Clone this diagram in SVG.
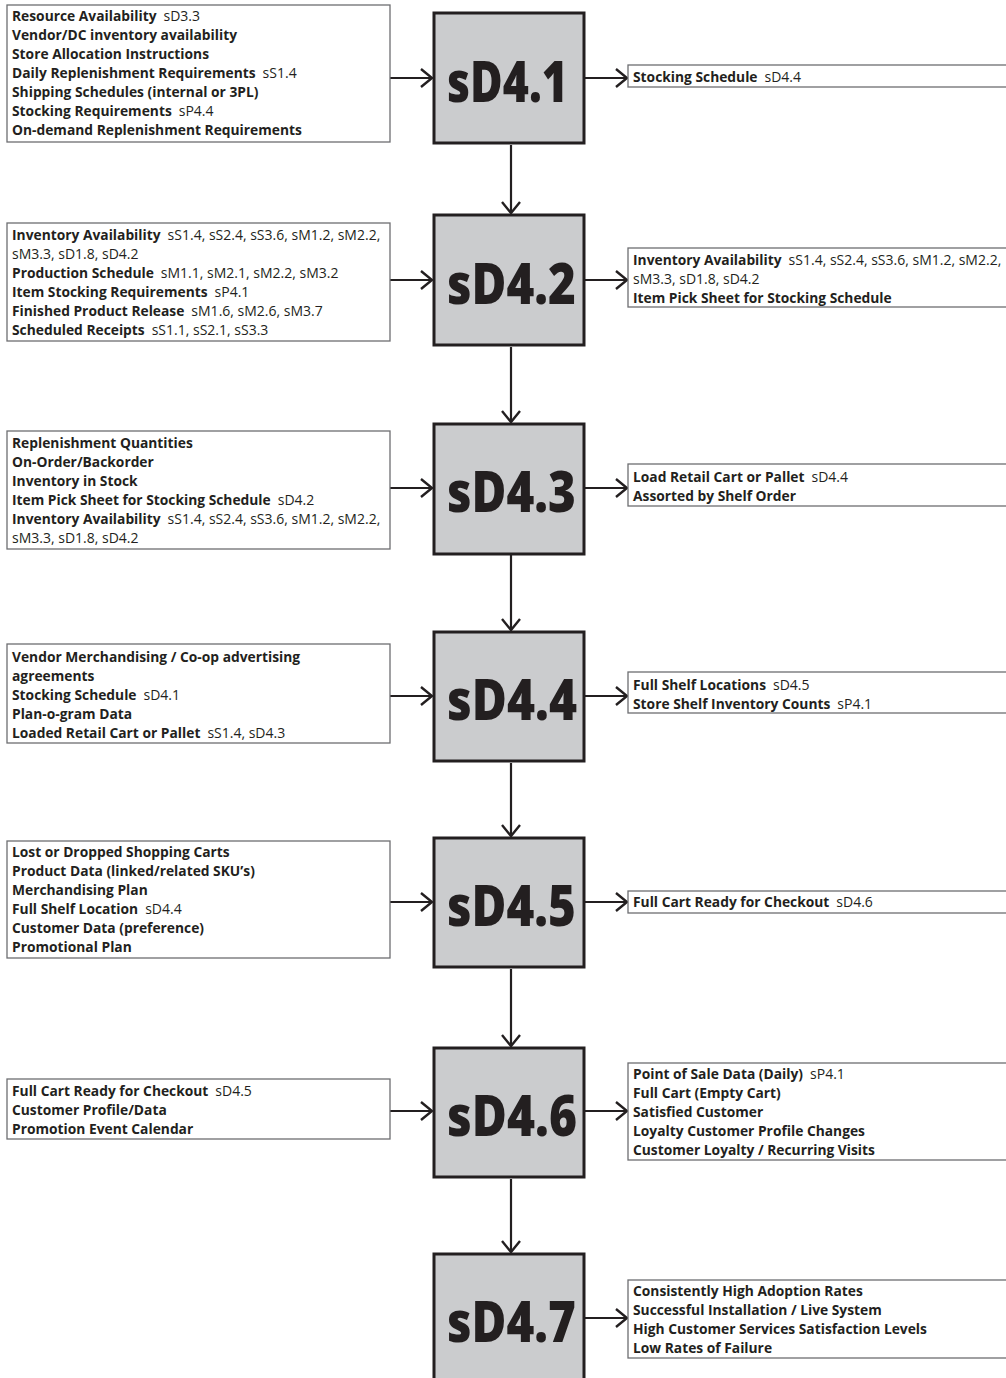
<svg xmlns="http://www.w3.org/2000/svg" width="1006" height="1378" viewBox="0 0 1006 1378">
  <style>
    .bg { fill: #ffffff; }
    .step { fill: #cbccce; stroke: #231f20; stroke-width: 3; }
    .step-label { font-family: "Open Sans", "Liberation Sans", sans-serif; font-weight: 800; font-size: 57px; fill: #231f20; }
    .io { fill: #ffffff; stroke: #6d6e71; stroke-width: 1.3; }
    .t { font-family: "Open Sans", "Liberation Sans", sans-serif; fill: #231f20; }
    .b { font-weight: 700; font-size: 13.8px; }
    .r { font-weight: 400; font-size: 14px; }
    .wire { stroke: #231f20; stroke-width: 2.2; fill: none; marker-end: url(#chev); }
  </style>
  <defs>
    <marker id="chev" markerUnits="userSpaceOnUse" viewBox="-12 -11 14 22" refX="0" refY="0" markerWidth="14" markerHeight="22" orient="auto">
      <path d="M-11,-9 L0,0 L-11,9" fill="none" stroke="#231f20" stroke-width="2.4"/>
    </marker>
  </defs>
  <rect class="bg" x="0" y="0" width="1006" height="1378"/>

  <!-- connectors: inputs into each step, step to step, step to outputs -->
  <g id="connectors">
    <line class="wire" x1="390" y1="78" x2="432" y2="78"/>
    <line class="wire" x1="585" y1="78" x2="627" y2="78"/>
    <line class="wire" x1="511" y1="145" x2="511" y2="213"/>

    <line class="wire" x1="390" y1="280" x2="432" y2="280"/>
    <line class="wire" x1="585" y1="280" x2="627" y2="280"/>
    <line class="wire" x1="511" y1="347" x2="511" y2="422"/>

    <line class="wire" x1="390" y1="488" x2="432" y2="488"/>
    <line class="wire" x1="585" y1="488" x2="627" y2="488"/>
    <line class="wire" x1="511" y1="555" x2="511" y2="630"/>

    <line class="wire" x1="390" y1="696" x2="432" y2="696"/>
    <line class="wire" x1="585" y1="696" x2="627" y2="696"/>
    <line class="wire" x1="511" y1="763" x2="511" y2="836"/>

    <line class="wire" x1="390" y1="902" x2="432" y2="902"/>
    <line class="wire" x1="585" y1="902" x2="627" y2="902"/>
    <line class="wire" x1="511" y1="969" x2="511" y2="1046"/>

    <line class="wire" x1="390" y1="1111" x2="432" y2="1111"/>
    <line class="wire" x1="585" y1="1111" x2="627" y2="1111"/>
    <line class="wire" x1="511" y1="1179" x2="511" y2="1252"/>

    <line class="wire" x1="585" y1="1318" x2="627" y2="1318"/>
  </g>

  <!-- sD4.1 -->
  <g id="in-sD4.1">
    <rect class="io" x="7" y="5" width="383" height="137"/>
    <text class="t" x="12" y="21"><tspan class="b">Resource Availability</tspan><tspan class="r" dx="7">sD3.3</tspan></text>
    <text class="t b" x="12" y="40">Vendor/DC inventory availability</text>
    <text class="t b" x="12" y="59">Store Allocation Instructions</text>
    <text class="t" x="12" y="78"><tspan class="b">Daily Replenishment Requirements</tspan><tspan class="r" dx="7">sS1.4</tspan></text>
    <text class="t b" x="12" y="97">Shipping Schedules (internal or 3PL)</text>
    <text class="t" x="12" y="116"><tspan class="b">Stocking Requirements</tspan><tspan class="r" dx="7">sP4.4</tspan></text>
    <text class="t b" x="12" y="135">On-demand Replenishment Requirements</text>
  </g>
  <g id="sD4.1">
    <rect class="step" x="434" y="13" width="150" height="130"/>
    <text class="step-label" x="447" y="102" textLength="121" lengthAdjust="spacingAndGlyphs">sD4.1</text>
  </g>
  <g id="out-sD4.1">
    <rect class="io" x="628" y="65" width="390" height="22"/>
    <text class="t" x="633" y="82"><tspan class="b">Stocking Schedule</tspan><tspan class="r" dx="7">sD4.4</tspan></text>
  </g>

  <!-- sD4.2 -->
  <g id="in-sD4.2">
    <rect class="io" x="7" y="223" width="383" height="118"/>
    <text class="t" x="12" y="240"><tspan class="b">Inventory Availability</tspan><tspan class="r" dx="7">sS1.4, sS2.4, sS3.6, sM1.2, sM2.2,</tspan></text>
    <text class="t r" x="12" y="259">sM3.3, sD1.8, sD4.2</text>
    <text class="t" x="12" y="278"><tspan class="b">Production Schedule</tspan><tspan class="r" dx="7">sM1.1, sM2.1, sM2.2, sM3.2</tspan></text>
    <text class="t" x="12" y="297"><tspan class="b">Item Stocking Requirements</tspan><tspan class="r" dx="7">sP4.1</tspan></text>
    <text class="t" x="12" y="316"><tspan class="b">Finished Product Release</tspan><tspan class="r" dx="7">sM1.6, sM2.6, sM3.7</tspan></text>
    <text class="t" x="12" y="335"><tspan class="b">Scheduled Receipts</tspan><tspan class="r" dx="7">sS1.1, sS2.1, sS3.3</tspan></text>
  </g>
  <g id="sD4.2">
    <rect class="step" x="434" y="215" width="150" height="130"/>
    <text class="step-label" x="447" y="304" textLength="129" lengthAdjust="spacingAndGlyphs">sD4.2</text>
  </g>
  <g id="out-sD4.2">
    <rect class="io" x="628" y="248" width="390" height="59"/>
    <text class="t" x="633" y="265"><tspan class="b">Inventory Availability</tspan><tspan class="r" dx="7">sS1.4, sS2.4, sS3.6, sM1.2, sM2.2,</tspan></text>
    <text class="t r" x="633" y="284">sM3.3, sD1.8, sD4.2</text>
    <text class="t b" x="633" y="303">Item Pick Sheet for Stocking Schedule</text>
  </g>

  <!-- sD4.3 -->
  <g id="in-sD4.3">
    <rect class="io" x="7" y="431" width="383" height="118"/>
    <text class="t b" x="12" y="448">Replenishment Quantities</text>
    <text class="t b" x="12" y="467">On-Order/Backorder</text>
    <text class="t b" x="12" y="486">Inventory in Stock</text>
    <text class="t" x="12" y="505"><tspan class="b">Item Pick Sheet for Stocking Schedule</tspan><tspan class="r" dx="7">sD4.2</tspan></text>
    <text class="t" x="12" y="524"><tspan class="b">Inventory Availability</tspan><tspan class="r" dx="7">sS1.4, sS2.4, sS3.6, sM1.2, sM2.2,</tspan></text>
    <text class="t r" x="12" y="543">sM3.3, sD1.8, sD4.2</text>
  </g>
  <g id="sD4.3">
    <rect class="step" x="434" y="424" width="150" height="130"/>
    <text class="step-label" x="447" y="512" textLength="129" lengthAdjust="spacingAndGlyphs">sD4.3</text>
  </g>
  <g id="out-sD4.3">
    <rect class="io" x="628" y="464" width="390" height="42"/>
    <text class="t" x="633" y="482"><tspan class="b">Load Retail Cart or Pallet</tspan><tspan class="r" dx="7">sD4.4</tspan></text>
    <text class="t b" x="633" y="501">Assorted by Shelf Order</text>
  </g>

  <!-- sD4.4 -->
  <g id="in-sD4.4">
    <rect class="io" x="7" y="644" width="383" height="99"/>
    <text class="t b" x="12" y="662">Vendor Merchandising / Co-op advertising</text>
    <text class="t b" x="12" y="681">agreements</text>
    <text class="t" x="12" y="700"><tspan class="b">Stocking Schedule</tspan><tspan class="r" dx="7">sD4.1</tspan></text>
    <text class="t b" x="12" y="719">Plan-o-gram Data</text>
    <text class="t" x="12" y="738"><tspan class="b">Loaded Retail Cart or Pallet</tspan><tspan class="r" dx="7">sS1.4, sD4.3</tspan></text>
  </g>
  <g id="sD4.4">
    <rect class="step" x="434" y="632" width="150" height="129"/>
    <text class="step-label" x="447" y="720" textLength="130" lengthAdjust="spacingAndGlyphs">sD4.4</text>
  </g>
  <g id="out-sD4.4">
    <rect class="io" x="628" y="672" width="390" height="41"/>
    <text class="t" x="633" y="690"><tspan class="b">Full Shelf Locations</tspan><tspan class="r" dx="7">sD4.5</tspan></text>
    <text class="t" x="633" y="709"><tspan class="b">Store Shelf Inventory Counts</tspan><tspan class="r" dx="7">sP4.1</tspan></text>
  </g>

  <!-- sD4.5 -->
  <g id="in-sD4.5">
    <rect class="io" x="7" y="841" width="383" height="117"/>
    <text class="t b" x="12" y="857">Lost or Dropped Shopping Carts</text>
    <text class="t b" x="12" y="876">Product Data (linked/related SKU’s)</text>
    <text class="t b" x="12" y="895">Merchandising Plan</text>
    <text class="t" x="12" y="914"><tspan class="b">Full Shelf Location</tspan><tspan class="r" dx="7">sD4.4</tspan></text>
    <text class="t b" x="12" y="933">Customer Data (preference)</text>
    <text class="t b" x="12" y="952">Promotional Plan</text>
  </g>
  <g id="sD4.5">
    <rect class="step" x="434" y="838" width="150" height="129"/>
    <text class="step-label" x="447" y="926" textLength="129" lengthAdjust="spacingAndGlyphs">sD4.5</text>
  </g>
  <g id="out-sD4.5">
    <rect class="io" x="628" y="891" width="390" height="22"/>
    <text class="t" x="633" y="907"><tspan class="b">Full Cart Ready for Checkout</tspan><tspan class="r" dx="7">sD4.6</tspan></text>
  </g>

  <!-- sD4.6 -->
  <g id="in-sD4.6">
    <rect class="io" x="7" y="1079" width="383" height="60"/>
    <text class="t" x="12" y="1096"><tspan class="b">Full Cart Ready for Checkout</tspan><tspan class="r" dx="7">sD4.5</tspan></text>
    <text class="t b" x="12" y="1115">Customer Profile/Data</text>
    <text class="t b" x="12" y="1134">Promotion Event Calendar</text>
  </g>
  <g id="sD4.6">
    <rect class="step" x="434" y="1048" width="150" height="129"/>
    <text class="step-label" x="447" y="1136" textLength="130" lengthAdjust="spacingAndGlyphs">sD4.6</text>
  </g>
  <g id="out-sD4.6">
    <rect class="io" x="628" y="1063" width="390" height="97"/>
    <text class="t" x="633" y="1079"><tspan class="b">Point of Sale Data (Daily)</tspan><tspan class="r" dx="7">sP4.1</tspan></text>
    <text class="t b" x="633" y="1098">Full Cart (Empty Cart)</text>
    <text class="t b" x="633" y="1117">Satisfied Customer</text>
    <text class="t b" x="633" y="1136">Loyalty Customer Profile Changes</text>
    <text class="t b" x="633" y="1155">Customer Loyalty / Recurring Visits</text>
  </g>

  <!-- sD4.7 -->
  <g id="sD4.7">
    <rect class="step" x="434" y="1254" width="150" height="140"/>
    <text class="step-label" x="447" y="1342" textLength="129" lengthAdjust="spacingAndGlyphs">sD4.7</text>
  </g>
  <g id="out-sD4.7">
    <rect class="io" x="628" y="1280" width="390" height="78"/>
    <text class="t b" x="633" y="1296">Consistently High Adoption Rates</text>
    <text class="t b" x="633" y="1315">Successful Installation / Live System</text>
    <text class="t b" x="633" y="1334">High Customer Services Satisfaction Levels</text>
    <text class="t b" x="633" y="1353">Low Rates of Failure</text>
  </g>
</svg>
